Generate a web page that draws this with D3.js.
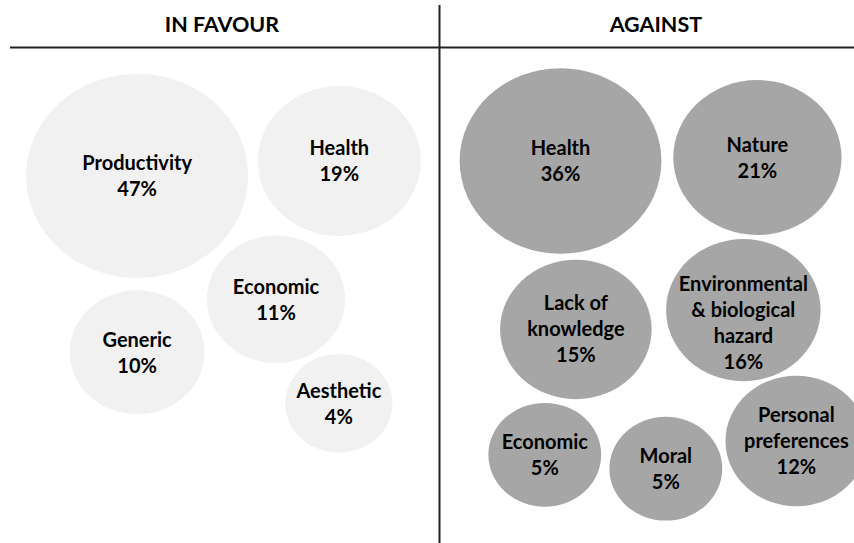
<!DOCTYPE html>
<html>
<head>
<meta charset="utf-8">
<script src="https://cdn.jsdelivr.net/npm/d3@7/dist/d3.min.js"></script>
<style>
  html, body { margin: 0; padding: 0; background: #fff; }
  svg { display: block; }
  text { font-family: Lato, "Open Sans", sans-serif; font-weight: 700; fill: #000; }
</style>
</head>
<body>
<svg id="chart" width="854" height="543"></svg>
<script>
// Arguments in favour
const favourCategories = ["Productivity", "Health", "Economic", "Generic", "Aesthetic"];
const favourValues     = [47, 19, 11, 10, 4];

// Arguments against
const againstCategories = ["Health", "Nature", "Lack of\nknowledge", "Environmental\n& biological\nhazard",
                           "Economic", "Moral", "Personal\npreferences"];
const againstValues     = [36, 21, 15, 16, 5, 5, 12];

// Panel headings
const panelTitles = ["IN FAVOUR", "AGAINST"];

// Bubble placement on a 0–100 grid inside each panel (x, y, label shift)
const favourLayout  = [[31.2, 25.9, 0], [77.2, 22.9, 0], [62.8, 50.8, 1], [31.2, 61.5, 1], [77.1, 71.8, 1]];
const againstLayout = [[29.2, 22.9, 0], [76.7, 22.2, 0], [32.9, 56.9, 0], [73.3, 53.0, 13],
                       [25.4, 82.2, 0], [54.6, 85.0, 0], [86.1, 79.4, 0]];

const W = 854, H = 543;
const divX = 439.5, ruleY = 47.5;
const svg = d3.select("#chart");

// Bubble size from the percentage
const r = d3.scaleSqrt().domain([0, 47]).range([30, 111]);
const squash = 0.92;
const lineH = 26;

const panels = [
  { title: panelTitles[0], cats: favourCategories, vals: favourValues, layout: favourLayout,
    x: d3.scaleLinear().domain([0, 100]).range([0, divX]), fill: "#f1f1f1", titleAt: 50.5 },
  { title: panelTitles[1], cats: againstCategories, vals: againstValues, layout: againstLayout,
    x: d3.scaleLinear().domain([0, 100]).range([divX, W]), fill: "#a6a6a6", titleAt: 52.2 }
];
const y = d3.scaleLinear().domain([0, 100]).range([ruleY, H]);

panels.forEach(p => {
  const data = p.cats.map((c, i) => ({
    lines: c.split("\n").concat([p.vals[i] + "%"]),
    v: p.vals[i], cx: p.x(p.layout[i][0]), cy: y(p.layout[i][1]), dy: p.layout[i][2]
  }));

  const g = svg.append("g").selectAll("g.bubble").data(data).join("g")
    .attr("class", "bubble")
    .attr("transform", d => `translate(${d.cx},${d.cy})`);

  g.append("ellipse")
    .attr("rx", d => r(d.v))
    .attr("ry", d => r(d.v) * squash)
    .attr("fill", p.fill);

  g.append("text")
    .attr("text-anchor", "middle")
    .style("font-size", "20px")
    .selectAll("tspan").data(d => d.lines.map((t, k) => ({ t, k, n: d.lines.length, dy: d.dy })))
    .join("tspan")
    .attr("x", 0)
    .attr("y", s => s.dy + (s.k - (s.n - 1) / 2) * lineH + 7)
    .text(s => s.t);

  svg.append("text")
    .attr("x", p.x(p.titleAt))
    .attr("y", 32)
    .attr("text-anchor", "middle")
    .style("font-size", "21.5px")
    .text(p.title);
});

// Dividing rules
svg.append("line").attr("x1", 10).attr("x2", W).attr("y1", ruleY).attr("y2", ruleY)
  .attr("stroke", "#222").attr("stroke-width", 2);
svg.append("line").attr("x1", divX).attr("x2", divX).attr("y1", 5).attr("y2", H)
  .attr("stroke", "#222").attr("stroke-width", 2);
</script>
</body>
</html>
